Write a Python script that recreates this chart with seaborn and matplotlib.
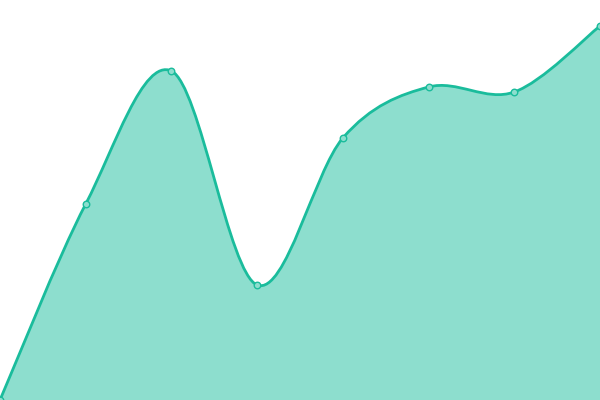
import numpy as np
import matplotlib
matplotlib.use("Agg")
import matplotlib.pyplot as plt
from matplotlib.path import Path
from matplotlib.patches import PathPatch
import seaborn as sns

steps = [0, 1, 2, 3, 4, 5, 6, 7]
values = [0, 196, 329, 115, 262, 313, 308, 374]

line_color = "#1abc9c"
fill_color = "#8ddece"

sns.set_theme(style="white")

fig = plt.figure(figsize=(6, 4), dpi=100)
ax = fig.add_axes([0, 0, 1, 1])


def catmull_rom_path(xs, ys):
    # cubic bezier segments through every point (catmull-rom tangents)
    pts = np.column_stack([xs, ys]).astype(float)
    padded = np.vstack([pts[0], pts, pts[-1]])
    verts = [tuple(pts[0])]
    codes = [Path.MOVETO]
    for i in range(len(pts) - 1):
        p0, p1, p2, p3 = padded[i], padded[i + 1], padded[i + 2], padded[i + 3]
        c1 = p1 + (p2 - p0) / 6
        c2 = p2 - (p3 - p1) / 6
        verts += [tuple(c1), tuple(c2), tuple(p2)]
        codes += [Path.CURVE4] * 3
    return verts, codes


verts, codes = catmull_rom_path(steps, values)

# area under the curve
area_verts = verts + [(steps[-1], 0), (steps[0], 0), verts[0]]
area_codes = codes + [Path.LINETO, Path.LINETO, Path.CLOSEPOLY]
ax.add_patch(PathPatch(Path(area_verts, area_codes), facecolor=fill_color,
                       edgecolor="none", zorder=1))

# the line itself
ax.add_patch(PathPatch(Path(verts, codes), facecolor="none",
                       edgecolor=line_color, linewidth=2.0, zorder=2,
                       capstyle="round", joinstyle="round"))

# point markers
sns.scatterplot(x=steps, y=values, ax=ax, s=22, color=fill_color,
                edgecolor=line_color, linewidth=1.0, zorder=3)

ax.set_xlim(0, 7)
ax.set_ylim(0, 400)
ax.set_axis_off()

fig.savefig("out.png", dpi=100)
